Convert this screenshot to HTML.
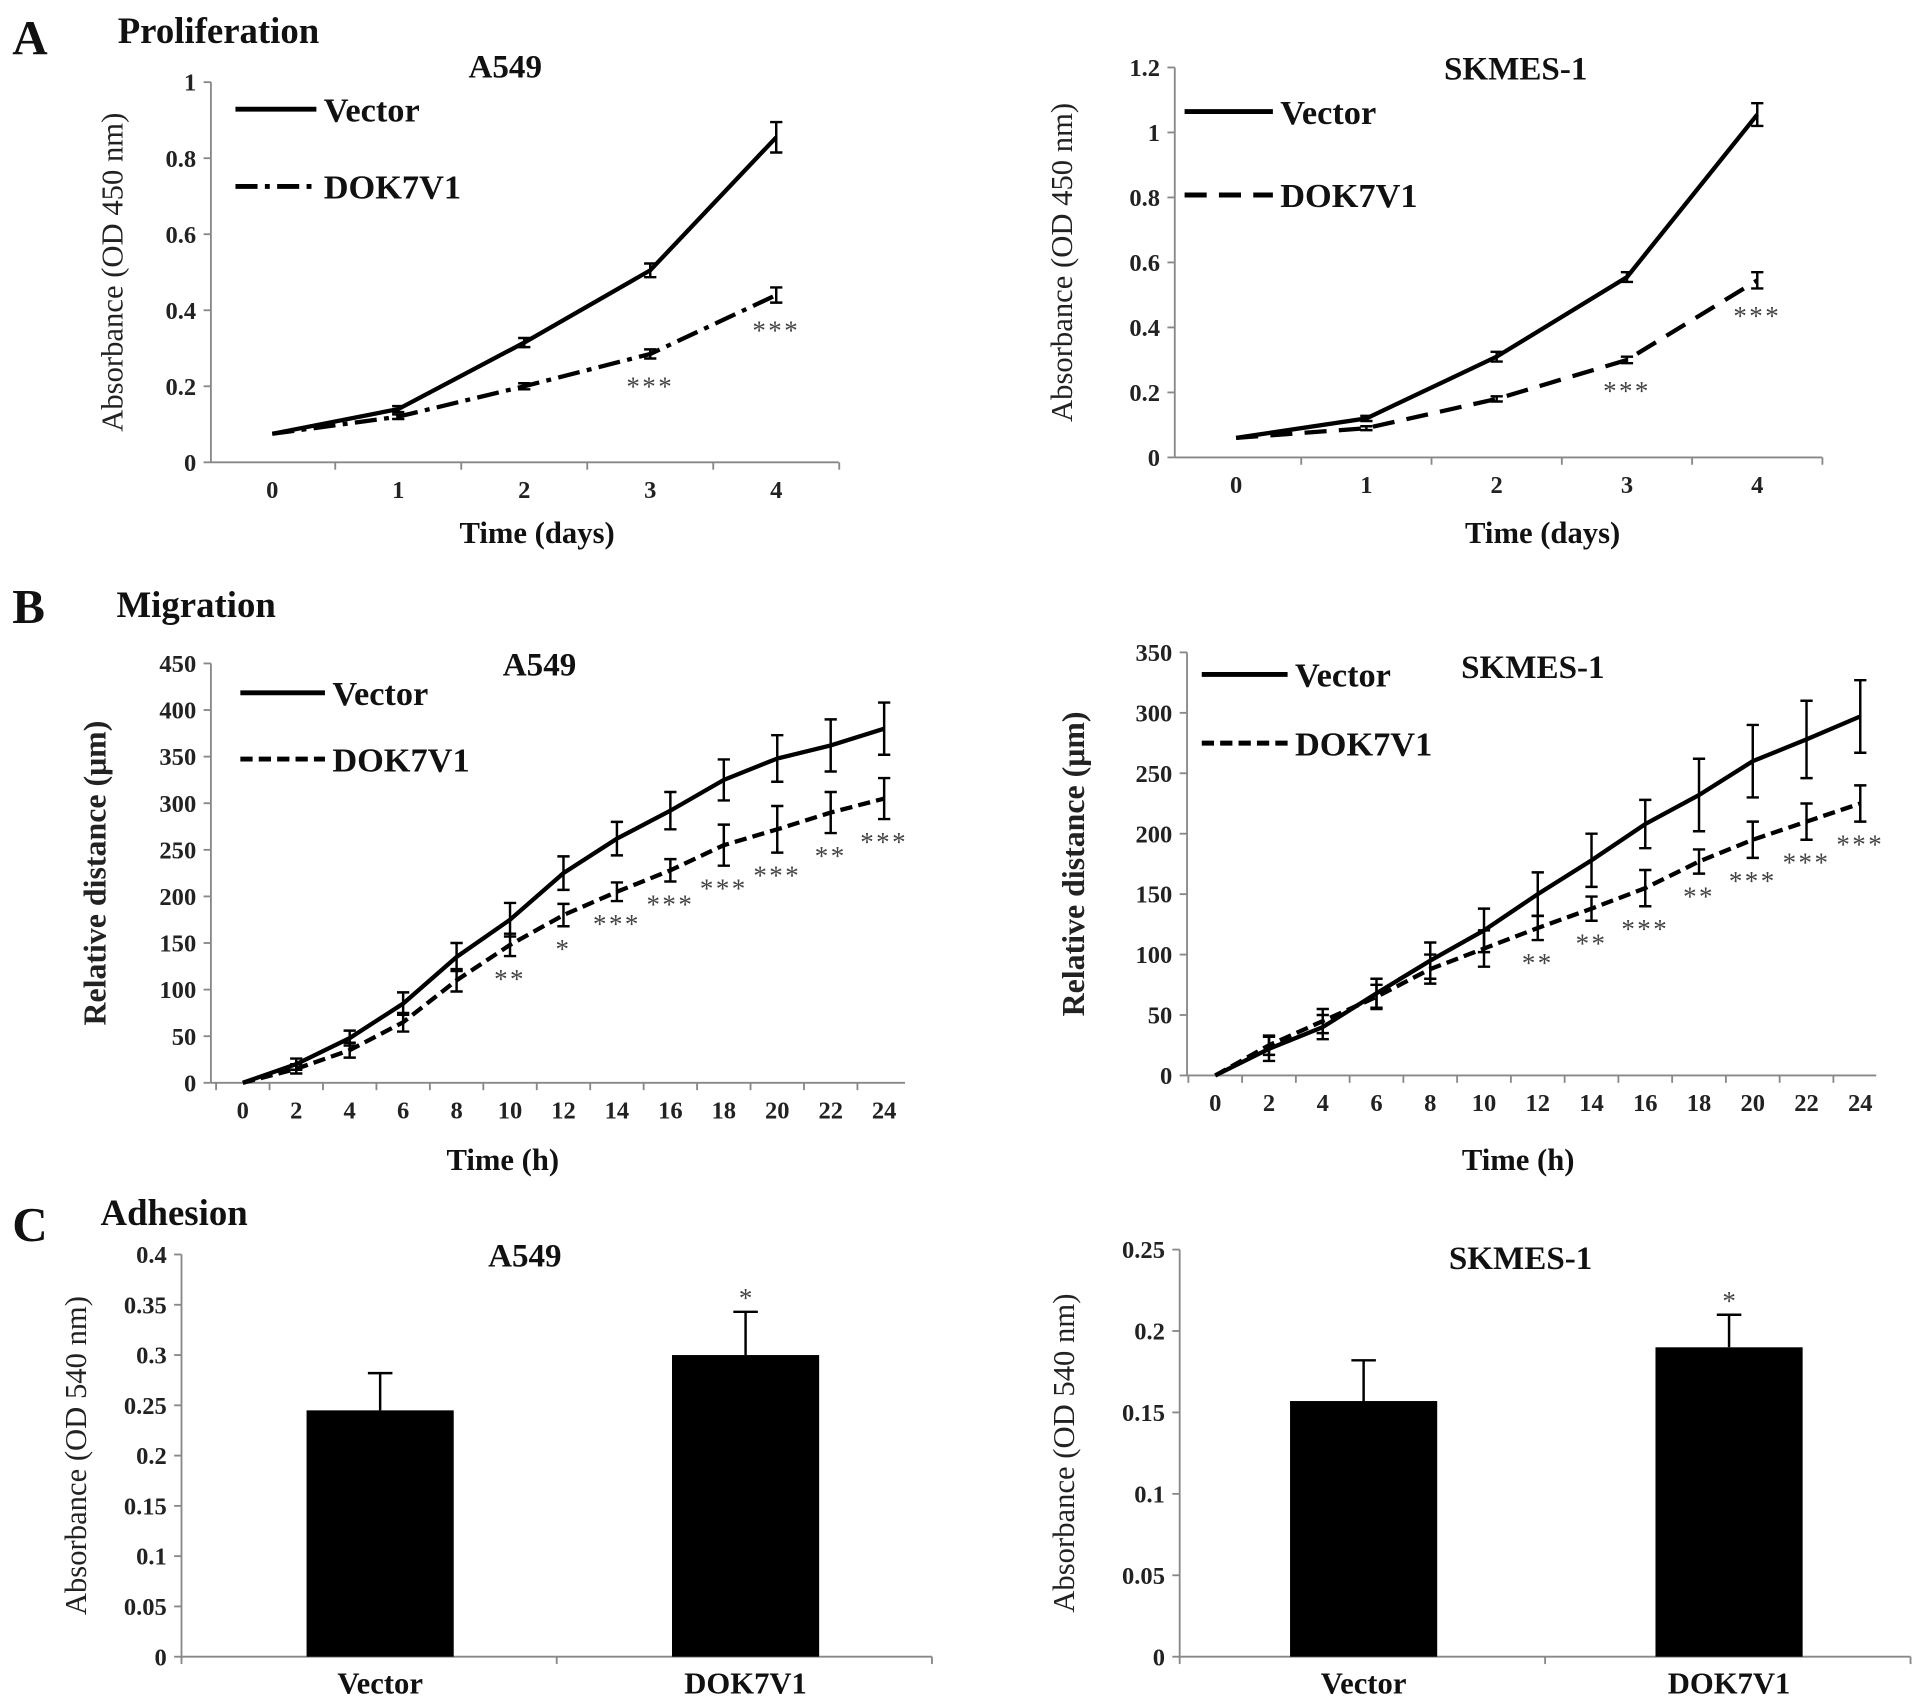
<!DOCTYPE html>
<html><head><meta charset="utf-8"><style>
html,body{margin:0;padding:0;background:#fff;}
svg{display:block;font-family:"Liberation Serif",serif;}
svg text{font-family:"Liberation Serif",serif;}
</style></head><body>
<svg id="fig" width="1913" height="1707" viewBox="0 0 1560 1392" xmlns="http://www.w3.org/2000/svg">
<rect width="1560" height="1392" fill="#fff"/>
<g font-weight="bold" fill="#111">
<text x="10" y="44" font-size="40">A</text>
<text x="96" y="35" font-size="30">Proliferation</text>
<text x="10" y="508" font-size="40">B</text>
<text x="95" y="503" font-size="30">Migration</text>
<text x="10" y="1012" font-size="40">C</text>
<text x="82" y="999" font-size="30">Adhesion</text>
</g>
</svg>
<script>
// Panel A data
const daysCat=[0,1,2,3,4];
const aA549Vector=[0.075,0.14,0.315,0.505,0.855];
const aA549VectorErr=[0.005,0.008,0.012,0.018,0.04];
const aA549Dok=[0.075,0.12,0.2,0.285,0.44];
const aA549DokErr=[0.005,0.006,0.008,0.012,0.02];
const aA549Stars=["","","","***","***"];
const aSkVector=[0.06,0.12,0.31,0.555,1.055];
const aSkVectorErr=[0.005,0.008,0.015,0.015,0.035];
const aSkDok=[0.06,0.09,0.18,0.3,0.545];
const aSkDokErr=[0.004,0.006,0.008,0.01,0.025];
const aSkStars=["","","","***","***"];
const aA549Ticks=[0,0.2,0.4,0.6,0.8,1];
const aSkTicks=[0,0.2,0.4,0.6,0.8,1,1.2];
// Panel B data
const hoursCat=[0,2,4,6,8,10,12,14,16,18,20,22,24];
const bA549Vector=[0,20,48,85,135,175,225,262,292,325,348,362,380];
const bA549VectorErr=[3,6,8,12,15,18,18,18,20,22,25,28,28];
const bA549Dok=[0,15,35,65,110,148,180,205,228,255,272,290,305];
const bA549DokErr=[3,5,8,10,12,12,12,10,12,22,25,22,22];
const bA549Stars=["","","","","","**","*","***","***","***","***","**","***"];
const bSkVector=[0,22,40,68,95,120,150,178,208,232,260,278,297];
const bSkVectorErr=[3,10,10,12,15,18,18,22,20,30,30,32,30];
const bSkDok=[0,25,45,65,88,105,122,138,155,177,195,210,225];
const bSkDokErr=[3,8,10,10,12,15,10,10,15,10,15,15,15];
const bSkStars=["","","","","","","**","**","***","**","***","***","***"];
const bA549Ticks=[0,50,100,150,200,250,300,350,400,450];
const bSkTicks=[0,50,100,150,200,250,300,350];
// Panel C data
const groups=["Vector","DOK7V1"];
const cA549Vals=[0.245,0.3];
const cA549Err=[0.037,0.043];
const cA549Stars=["","*"];
const cSkVals=[0.157,0.19];
const cSkErr=[0.025,0.02];
const cSkStars=["","*"];
const cA549Ticks=[0,0.05,0.1,0.15,0.2,0.25,0.3,0.35,0.4];
const cSkTicks=[0,0.05,0.1,0.15,0.2,0.25];

const NS="http://www.w3.org/2000/svg";
const fig=document.getElementById('fig');
function mk(tag,attrs,parent,txt){const e=document.createElementNS(NS,tag);for(const k in attrs)e.setAttribute(k,attrs[k]);if(txt!==undefined)e.textContent=txt;(parent||fig).appendChild(e);return e;}

function axes(g,c,ticks){
  const y=v=>c.y0-(v-ticks[0])/(ticks[ticks.length-1]-ticks[0])*(c.y0-c.y1);
  const ax=mk('line',{x1:c.ax,y1:c.y0,x2:c.ax,y2:c.y1,stroke:'#888','stroke-width':1.5},g);
  
  
  const xa=mk('line',{x1:c.ax,y1:c.y0,x2:c.axEnd,y2:c.y0,stroke:'#888','stroke-width':1.5},g);
  
  
  ticks.forEach(t=>{
    mk('line',{x1:c.ax-6,y1:y(t),x2:c.ax,y2:y(t),stroke:'#888','stroke-width':1.5},g);
    const tl=mk('text',{x:c.ax-12,y:y(t)+7,'text-anchor':'end','font-size':20,'font-weight':'bold',fill:'#222'},g,String(t));
    
    
  });
  const t=mk('text',{x:c.tx,y:c.ty,'text-anchor':'middle','font-size':27,'font-weight':'bold',fill:'#111'},g,c.title);
  
  
  const yl=mk('text',{x:0,y:0,transform:`translate(${c.ylx},${(c.y0+c.y1)/2}) rotate(-90)`,'text-anchor':'middle','font-size':c.ylFs||25,'font-weight':c.ylBold?'bold':'normal',fill:'#222'},g,c.ylabel);
  
  
  return y;
}

function lineChart(c,cats,ticks,v1,e1,v2,e2,stars,dash2){
  const g=mk('g',{});
  
  
  const y=axes(g,c,ticks);
  const x=v=>c.x0+(v-cats[0])/(cats[cats.length-1]-cats[0])*(c.x1-c.x0);
  const n=cats.length;const step=(c.x1-c.x0)/(n-1);
  for(let i=0;i<=n;i++){const tx=c.x0-step/2+i*step;if(tx>=c.ax&&tx<=c.axEnd+1)mk('line',{x1:tx,y1:c.y0,x2:tx,y2:c.y0+6,stroke:'#888','stroke-width':1.5},g);}
  cats.forEach(cv=>{const t=mk('text',{x:x(cv),y:c.y0+29,'text-anchor':'middle','font-size':20,'font-weight':'bold',fill:'#222'},g,String(cv));
    
    });
  const xt=mk('text',{x:c.xtx,y:c.xty,'text-anchor':'middle','font-size':25,'font-weight':'bold',fill:'#111'},g,c.xtitle);
  
  
  [[v1,e1,'none','vector'],[v2,e2,dash2,'dok7v1']].forEach(([vals,errs,dash,nm])=>{
    const p=mk('polyline',{points:vals.map((v,i)=>x(cats[i])+','+y(v)).join(' '),fill:'none',stroke:'#000','stroke-width':3.5,'stroke-dasharray':dash},g);
    
    
    vals.forEach((v,i)=>{if(i===0)return;const xx=x(cats[i]);
      const eb=mk('path',{d:`M${xx},${y(v-errs[i])}V${y(v+errs[i])}M${xx-5},${y(v-errs[i])}H${xx+5}M${xx-5},${y(v+errs[i])}H${xx+5}`,stroke:'#000','stroke-width':2,fill:'none'},g);
      
      });
  });
  stars.forEach((s,i)=>{if(!s)return;const st=mk('text',{x:x(cats[i]),y:y(v2[i]-e2[i])+c.starOff,'text-anchor':'middle','font-size':22,fill:'#444','letter-spacing':2},g,s);
    
    });
  const l1=mk('line',{x1:c.lx,y1:c.ly1,x2:c.lx+c.lw,y2:c.ly1,stroke:'#000','stroke-width':4},g);
  
  
  const t1=mk('text',{x:c.lx+c.lw+6,y:c.ly1+10,'font-size':28,'font-weight':'bold',fill:'#111'},g,'Vector');
  
  
  const l2=mk('line',{x1:c.lx,y1:c.ly2,x2:c.lx+c.lw,y2:c.ly2,stroke:'#000','stroke-width':4,'stroke-dasharray':dash2},g);
  
  
  const t2=mk('text',{x:c.lx+c.lw+6,y:c.ly2+10,'font-size':28,'font-weight':'bold',fill:'#111'},g,'DOK7V1');
  
  
}

function barChart(c,cats,ticks,vals,errs,stars){
  const g=mk('g',{});
  
  
  const y=axes(g,c,ticks);
  const w=(c.axEnd-c.ax)/cats.length;
  for(let i=0;i<=cats.length;i++)mk('line',{x1:c.ax+i*w,y1:c.y0,x2:c.ax+i*w,y2:c.y0+6,stroke:'#888','stroke-width':1.5},g);
  cats.forEach((cat,i)=>{const cx=c.cx0+i*c.cdx;
    const b=mk('rect',{x:cx-60,y:y(vals[i]),width:120,height:c.y0-y(vals[i]),fill:'#000'},g);
    
    
    const eb=mk('path',{d:`M${cx},${y(vals[i])}V${y(vals[i]+errs[i])}M${cx-10},${y(vals[i]+errs[i])}H${cx+10}`,stroke:'#000','stroke-width':2,fill:'none'},g);
    
    
    if(stars[i]){const st=mk('text',{x:cx,y:y(vals[i]+errs[i])-4,'text-anchor':'middle','font-size':22,fill:'#444'},g,stars[i]);
      
      }
    const t=mk('text',{x:cx,y:c.y0+30,'text-anchor':'middle','font-size':25,'font-weight':'bold',fill:'#111'},g,cat);
    
    
  });
}

lineChart({name:'chart-proliferation-a549',ax:172,axEnd:684,x0:222,x1:633,y0:377,y1:67,title:'A549',tx:412,ty:63,ylabel:'Absorbance  (OD 450 nm)',ylx:100,xtitle:'Time (days)',xtx:438,xty:443,lx:192,lw:66,ly1:89,ly2:152,starOff:30},
  daysCat,aA549Ticks,aA549Vector,aA549VectorErr,aA549Dok,aA549DokErr,aA549Stars,'18,6,4,6');
lineChart({name:'chart-proliferation-skmes1',ax:958,axEnd:1486,x0:1008,x1:1433,y0:373,y1:55,title:'SKMES-1',tx:1236,ty:65,ylabel:'Absorbance  (OD 450 nm)',ylx:874,xtitle:'Time (days)',xtx:1258,xty:443,lx:966,lw:72,ly1:91,ly2:159,starOff:30},
  daysCat,aSkTicks,aSkVector,aSkVectorErr,aSkDok,aSkDokErr,aSkStars,'18,10');
lineChart({name:'chart-migration-a549',ax:172,axEnd:738,x0:198,x1:721,y0:883,y1:541,title:'A549',tx:440,ty:551,ylabel:'Relative distance (μm)',ylx:86,ylBold:true,ylFs:26,xtitle:'Time (h)',xtx:410,xty:954,lx:196,lw:69,ly1:565,ly2:619,starOff:26},
  hoursCat,bA549Ticks,bA549Vector,bA549VectorErr,bA549Dok,bA549DokErr,bA549Stars,'10,5');
lineChart({name:'chart-migration-skmes1',ax:968,axEnd:1530,x0:991,x1:1517,y0:877,y1:532,title:'SKMES-1',tx:1250,ty:553,ylabel:'Relative distance (μm)',ylx:884,ylBold:true,ylFs:26,xtitle:'Time (h)',xtx:1238,xty:954,lx:980,lw:70,ly1:550,ly2:606,starOff:26},
  hoursCat,bSkTicks,bSkVector,bSkVectorErr,bSkDok,bSkDokErr,bSkStars,'10,5');
barChart({name:'chart-adhesion-a549',ax:148,axEnd:760,cx0:310,cdx:298,y0:1351,y1:1023,title:'A549',tx:428,ty:1033,ylabel:'Absorbance  (OD 540 nm)',ylx:70},
  groups,cA549Ticks,cA549Vals,cA549Err,cA549Stars);
barChart({name:'chart-adhesion-skmes1',ax:962,axEnd:1558,cx0:1112,cdx:298,y0:1351,y1:1019,title:'SKMES-1',tx:1240,ty:1035,ylabel:'Absorbance  (OD 540 nm)',ylx:876},
  groups,cSkTicks,cSkVals,cSkErr,cSkStars);
</script>
</body></html>
